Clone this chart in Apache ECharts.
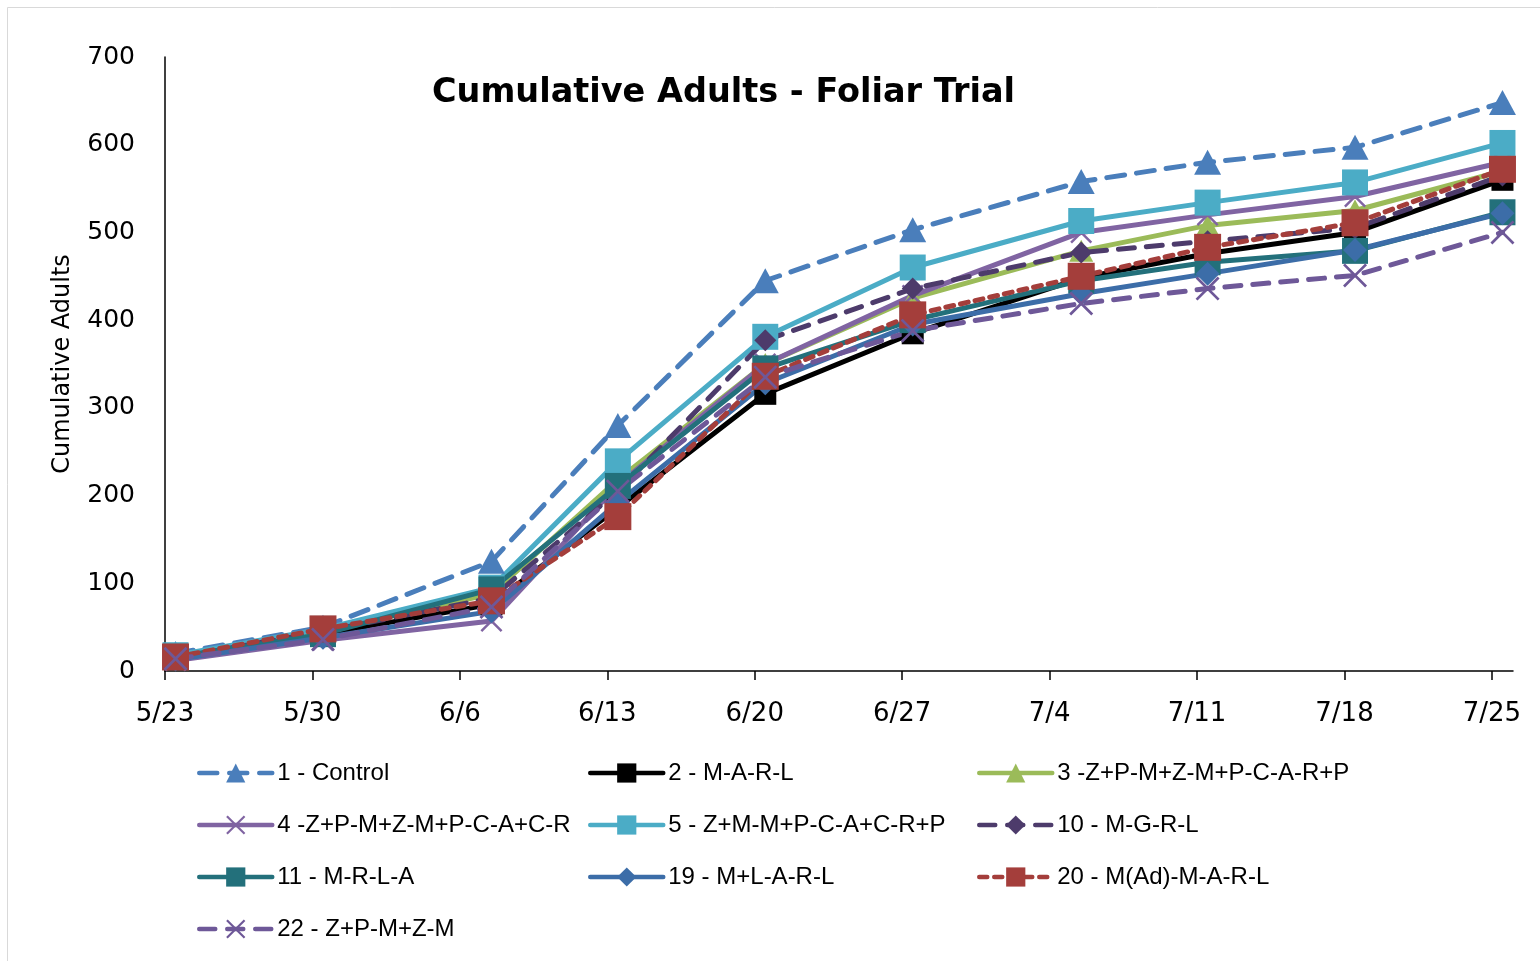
<!DOCTYPE html>
<html>
<head>
<meta charset="utf-8">
<script src="https://cdn.jsdelivr.net/npm/echarts@6/dist/echarts.min.js"></script>
<style>
html,body{margin:0;padding:0;background:#fff;}
#chart{width:1540px;height:961px;}
</style>
</head>
<body>
<div id="chart"></div>
<script>
// ---- data ----
const dates = ['5/23','5/30','6/7','6/13','6/20','6/27','7/5','7/11','7/18','7/25'];
const tickLabels = ['5/23','5/30','6/6','6/13','6/20','6/27','7/4','7/11','7/18','7/25'];
const seriesNames = ['1 - Control','2 - M-A-R-L','3 -Z+P-M+Z-M+P-C-A-R+P','4 -Z+P-M+Z-M+P-C-A+C-R','5 - Z+M-M+P-C-A+C-R+P','10 - M-G-R-L','11 - M-R-L-A','19 - M+L-A-R-L','20 - M(Ad)-M-A-R-L','22 - Z+P-M+Z-M'];
const s1  = [20, 50, 125, 280, 445, 503, 558, 580, 597, 648];
const s2  = [15, 42, 76, 186, 316, 385, 448, 476, 500, 560];
const s3  = [17, 45, 88, 218, 350, 425, 479, 508, 525, 570];
const s4  = [12, 35, 57, 212, 350, 428, 500, 520, 541, 580];
const s5  = [18, 48, 95, 239, 381, 460, 513, 534, 557, 602];
const s10 = [15, 45, 83, 205, 377, 436, 477, 490, 505, 565];
const s11 = [16, 42, 93, 211, 345, 400, 445, 466, 479, 523];
const s19 = [13, 38, 68, 192, 328, 395, 430, 453, 480, 522];
const s20 = [16, 48, 80, 176, 336, 406, 450, 483, 511, 572];
const s22 = [14, 36, 73, 205, 335, 388, 419, 436, 451, 500];
const yTicks = [0, 100, 200, 300, 400, 500, 600, 700];

// ---- helpers ----
const DAY = 86400000;
function toDay(s){ const p = s.split('/'); return Date.UTC(2013, +p[0]-1, +p[1]) / DAY; }
const day0 = toDay(dates[0]);
const tickDays = tickLabels.map(t => toDay(t) - day0);
const lastDay = toDay(dates[dates.length-1]) - day0 + 1;
function pts(vals){ return vals.map((v,i) => [toDay(dates[i]) - day0 + 0.5, v]); }

const XPATH = 'path://M0,0.8 L0.8,0 L10,9.2 L9.2,10 Z M9.2,0 L10,0.8 L0.8,10 L0,9.2 Z';
const styles = [
  {c:'#4A7EBB', sym:'triangle', size:[27,25], dash:[18,12]},
  {c:'#000000', sym:'rect', size:22, dash:'solid'},
  {c:'#9BBB59', sym:'triangle', size:[24,22], dash:'solid'},
  {c:'#8064A2', sym:XPATH, size:22, dash:'solid'},
  {c:'#4BACC6', sym:'rect', size:26, dash:'solid'},
  {c:'#4D3B6B', sym:'diamond', size:[22,22], dash:[16,12]},
  {c:'#23707B', sym:'rect', size:26, dash:'solid'},
  {c:'#3C6DA8', sym:'diamond', size:[24,24], dash:'solid'},
  {c:'#A43E3B', sym:'rect', size:27, dash:[8,7]},
  {c:'#6E5898', sym:XPATH, size:24, dash:[16,12]}
];
const allVals = [s1,s2,s3,s4,s5,s10,s11,s19,s20,s22];

const series = allVals.map((vals, i) => ({
  name: seriesNames[i],
  type: 'line',
  data: pts(vals),
  symbol: styles[i].sym,
  symbolSize: styles[i].size,
  showSymbol: true,
  lineStyle: {color: styles[i].c, width: 5, type: styles[i].dash, cap: 'round'},
  itemStyle: {color: styles[i].c},
  emphasis: {disabled: true}
}));

const legendCommon = {
  orient: 'vertical', top: 761, padding: 0, itemGap: 28,
  itemWidth: 73, itemHeight: 24,
  lineStyle: {width: 4.5},
  textStyle: {fontFamily: 'Liberation Sans', fontSize: 24, color: '#000', lineHeight: 24},
  selectedMode: false
};

const chart = echarts.init(document.getElementById('chart'), null, {renderer: 'canvas'});
chart.setOption({
  animation: false,
  backgroundColor: '#fff',
  title: {
    text: 'Cumulative Adults - Foliar Trial',
    left: 432, top: 76, padding: 0,
    textStyle: {fontFamily: 'DejaVu Sans', fontWeight: 'bold', fontSize: 33.5, color: '#000'}
  },
  graphic: [{
    type: 'rect', shape: {x: 7.5, y: 7.5, width: 1600, height: 1100},
    style: {fill: 'none', stroke: '#d9d9d9', lineWidth: 1}, silent: true
  }],
  grid: {left: 165, right: 27, top: 57, bottom: 290, containLabel: false},
  xAxis: {
    type: 'value', min: 0, max: lastDay,
    splitLine: {show: false},
    axisLine: {lineStyle: {color: '#000', width: 1.5}},
    axisTick: {show: true, inside: false, length: 9, lineStyle: {color: '#000', width: 1.5}, customValues: tickDays},
    axisLabel: {
      customValues: tickDays,
      margin: 30,
      fontFamily: 'DejaVu Sans', fontSize: 26, color: '#000',
      formatter: v => { const i = tickDays.indexOf(v); return i >= 0 ? tickLabels[i] : ''; }
    }
  },
  yAxis: {
    type: 'value', min: yTicks[0], max: yTicks[yTicks.length-1], interval: 100,
    name: 'Cumulative Adults', nameLocation: 'middle', nameGap: 90, nameRotate: 90,
    nameTextStyle: {fontFamily: 'DejaVu Sans', fontSize: 24, color: '#000'},
    splitLine: {show: false},
    axisLine: {show: true, lineStyle: {color: '#000', width: 1.5}},
    axisTick: {show: false},
    axisLabel: {margin: 30, fontFamily: 'DejaVu Sans', fontSize: 25, color: '#000'}
  },
  legend: [
    Object.assign({left: 197, data: [seriesNames[0], seriesNames[3], seriesNames[6], seriesNames[9]]}, legendCommon),
    Object.assign({left: 588, data: [seriesNames[1], seriesNames[4], seriesNames[7]]}, legendCommon),
    Object.assign({left: 977, data: [seriesNames[2], seriesNames[5], seriesNames[8]]}, legendCommon)
  ],
  series: series
});
</script>
</body>
</html>
